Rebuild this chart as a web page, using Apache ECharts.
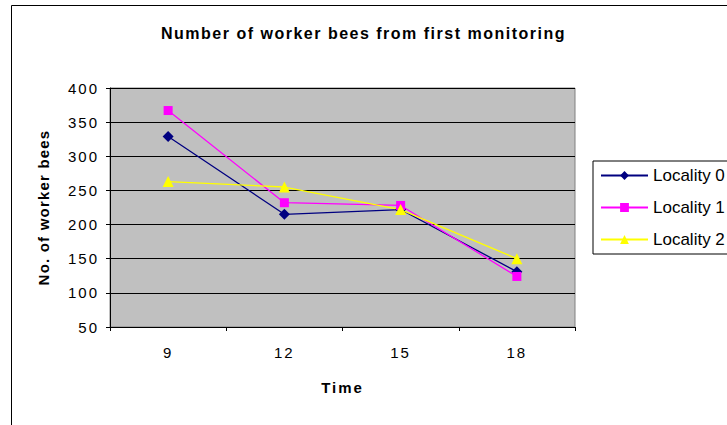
<!DOCTYPE html>
<html>
<head>
<meta charset="utf-8">
<script src="https://cdn.jsdelivr.net/npm/echarts@6/dist/echarts.min.js"></script>
<style>
html,body{margin:0;padding:0;background:#fff;}
#c{width:727px;height:425px;}
</style>
</head>
<body>
<div id="c"></div>
<script>
const categories = ['9', '12', '15', '18'];
const locality0 = [329, 215, 222, 131];
const locality1 = [367, 232, 228, 124];
const locality2 = [263, 255, 222, 150];
const seriesNames = ['Locality 0', 'Locality 1', 'Locality 2'];
const yTicks = { min: 50, max: 400, interval: 50 };
const yTickLabels = ['50', '100', '150', '200', '250', '300', '350', '400'];
const titleText = 'Number of worker bees from first monitoring';
const yName = 'No. of worker bees';
const xName = 'Time';

const font = 'Arial';
const chart = echarts.init(document.getElementById('c'), null, { renderer: 'svg' });
chart.setOption({
  animation: false,
  backgroundColor: '#ffffff',
  graphic: [{
    type: 'rect', left: 9, top: 3, silent: true,
    shape: { x: 0, y: 0, width: 740, height: 440 },
    style: { fill: 'none', stroke: '#000', lineWidth: 1 }
  }],
  title: {
    text: titleText,
    left: 'center', top: 20,
    textStyle: { fontFamily: font, fontSize: 16, fontWeight: 'bold', color: '#000' }
  },
  legend: {
    orient: 'vertical', left: 593, top: 161,
    itemWidth: 47, itemHeight: 11, itemGap: 15,
    padding: [6, 30, 6, 7],
    borderColor: '#000', borderWidth: 1, backgroundColor: '#fff',
    textStyle: { fontFamily: font, fontSize: 17, color: '#000' },
    data: seriesNames
  },
  grid: {
    left: 110, right: 152, top: 88, bottom: 98,
    show: true, backgroundColor: '#C0C0C0', borderColor: '#808080', borderWidth: 1
  },
  xAxis: {
    type: 'category', data: categories,
    name: xName, nameLocation: 'middle', nameGap: 53,
    nameTextStyle: { fontFamily: font, fontSize: 15, fontWeight: 'bold', color: '#000' },
    axisLine: { lineStyle: { color: '#000', width: 1 } },
    axisTick: { show: true, length: 4, lineStyle: { color: '#000' } },
    axisLabel: { fontFamily: font, fontSize: 15, color: '#000', margin: 18 },
    splitLine: { show: false }
  },
  yAxis: {
    type: 'value', min: yTicks.min, max: yTicks.max, interval: yTicks.interval,
    name: yName, nameLocation: 'middle', nameGap: 59, nameRotate: 90,
    nameTextStyle: { fontFamily: font, fontSize: 15, fontWeight: 'bold', color: '#000' },
    axisLine: { show: true, lineStyle: { color: '#000', width: 1 } },
    axisTick: { show: true, length: 4, lineStyle: { color: '#000' } },
    axisLabel: { fontFamily: font, fontSize: 15, color: '#000', margin: 11 },
    splitLine: { show: true, lineStyle: { color: '#000', width: 1 } }
  },
  series: [
    { name: seriesNames[0], type: 'line', data: locality0, symbol: 'diamond', symbolSize: 11,
      lineStyle: { color: '#000080', width: 1.3 }, itemStyle: { color: '#000080' } },
    { name: seriesNames[1], type: 'line', data: locality1, symbol: 'rect', symbolSize: 9,
      lineStyle: { color: '#FF00FF', width: 1.3 }, itemStyle: { color: '#FF00FF' } },
    { name: seriesNames[2], type: 'line', data: locality2, symbol: 'triangle', symbolSize: 11,
      lineStyle: { color: '#FFFF00', width: 1.3 }, itemStyle: { color: '#FFFF00' } }
  ]
});
// Widen letter spacing, as in the reference's rendering.
const spacing = {};
spacing[titleText] = '1.5px';
spacing[yName] = '1.2px';
spacing[xName] = '2px';
categories.concat(yTickLabels).forEach(s => { spacing[s] = '2px'; });
document.querySelectorAll('#c svg text').forEach(t => {
  const s = spacing[t.textContent];
  if (s) t.style.letterSpacing = s;
});
</script>
</body>
</html>
